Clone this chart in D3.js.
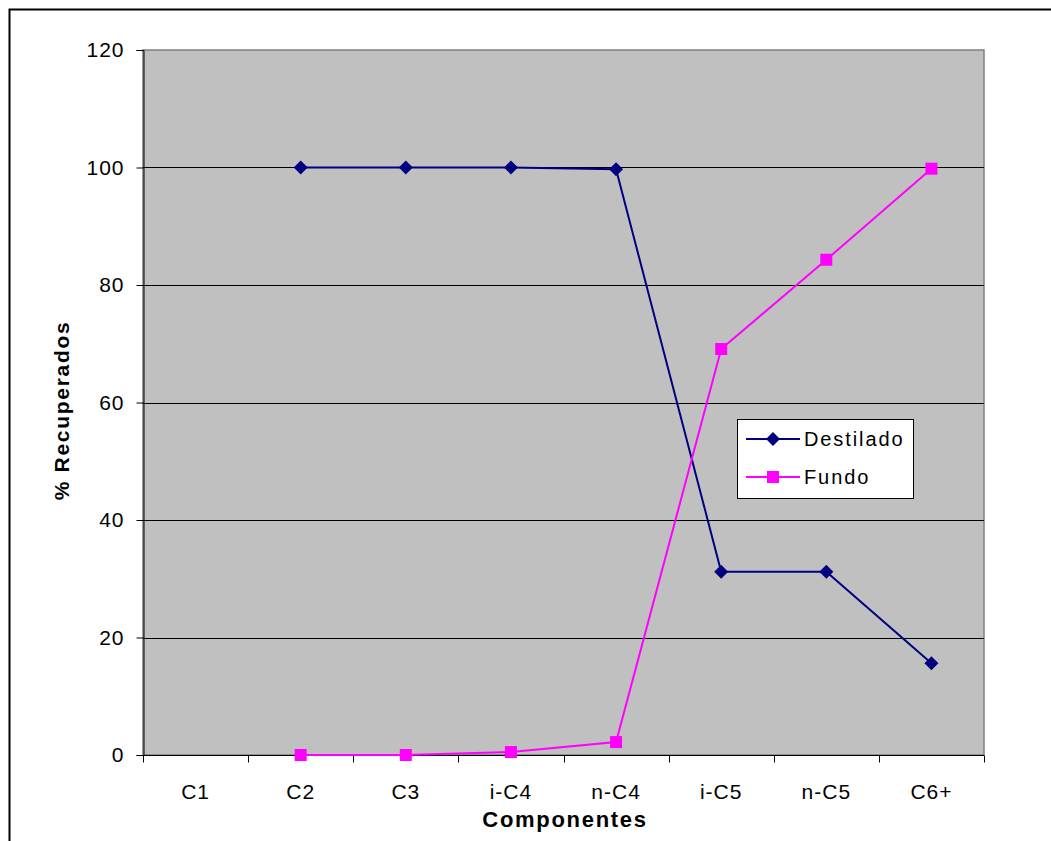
<!DOCTYPE html>
<html>
<head>
<meta charset="utf-8">
<script src="https://cdn.jsdelivr.net/npm/d3@7"></script>
<style>
  html, body { margin: 0; padding: 0; background: #fff; }
  svg { display: block; font-family: "Liberation Sans", Arial, sans-serif; }
</style>
</head>
<body>
<svg id="chart" width="1051" height="841"></svg>
<script>
// Recovery of each component in distillate and bottoms
const categories = ["C1", "C2", "C3", "i-C4", "n-C4", "i-C5", "n-C5", "C6+"];
const destilado = [null, 100, 100, 100, 99.7, 31.2, 31.2, 15.6];
const fundo = [null, 0, 0, 0.5, 2.2, 69.1, 84.3, 99.8];
const yTicks = [0, 20, 40, 60, 80, 100, 120];
const seriesNames = ["Destilado", "Fundo"];
const seriesColors = ["#000080", "#FF00FF"];

const svg = d3.select("#chart");
const W = 1051, H = 841;
const plot = { left: 143, top: 50, right: 984, bottom: 755 };
const FONT = "Liberation Sans, Arial, sans-serif";

// outer frame
svg.append("path")
  .attr("d", `M9.5,${H} V9.5 H${W}`)
  .attr("fill", "none").attr("stroke", "#000").attr("stroke-width", 2);

const x = d3.scaleBand().domain(categories).range([plot.left, plot.right]).padding(0);
const y = d3.scaleLinear().domain([0, 120]).range([plot.bottom, plot.top]);

// plot background
svg.append("rect")
  .attr("x", plot.left).attr("y", plot.top)
  .attr("width", plot.right - plot.left).attr("height", plot.bottom - plot.top)
  .attr("fill", "#C0C0C0").attr("stroke", "#808080").attr("stroke-width", 1.5);

// gridlines
svg.append("g").selectAll("line")
  .data(yTicks.filter(t => t > 0 && t < 120))
  .join("line")
  .attr("x1", plot.left).attr("x2", plot.right)
  .attr("y1", d => Math.round(y(d)) + 0.5).attr("y2", d => Math.round(y(d)) + 0.5)
  .attr("stroke", "#000").attr("stroke-width", 1);

// y axis
const yAxis = svg.append("g")
  .attr("transform", `translate(${plot.left + 0.5},0)`)
  .call(d3.axisLeft(y).tickValues(yTicks).tickSize(7).tickPadding(12));
yAxis.attr("font-size", 21).attr("font-family", FONT);
yAxis.select(".domain").attr("stroke", "#000");
yAxis.selectAll(".tick line").attr("stroke", "#000");
yAxis.selectAll("text").attr("font-size", 21).attr("fill", "#000")
  .attr("letter-spacing", 1);

// x axis with ticks between categories
const xAxisG = svg.append("g").attr("transform", `translate(0,${plot.bottom + 0.5})`);
xAxisG.append("line")
  .attr("x1", plot.left).attr("x2", plot.right)
  .attr("stroke", "#000").attr("stroke-width", 1);
const boundaries = categories.map(c => x(c)).concat([x(categories[categories.length - 1]) + x.bandwidth()]);
xAxisG.selectAll("line.tk").data(boundaries).join("line").attr("class", "tk")
  .attr("x1", d => Math.round(d) + 0.5).attr("x2", d => Math.round(d) + 0.5)
  .attr("y1", 0).attr("y2", 7).attr("stroke", "#000");
xAxisG.selectAll("text").data(categories).join("text")
  .attr("x", d => x(d) + x.bandwidth() / 2)
  .attr("y", 43)
  .attr("text-anchor", "middle")
  .attr("font-size", 21).attr("letter-spacing", 1).attr("fill", "#000")
  .text(d => d);

// axis titles
svg.append("text")
  .attr("x", 565).attr("y", 827)
  .attr("text-anchor", "middle")
  .attr("font-size", 22).attr("font-weight", "bold")
  .attr("letter-spacing", 1.7)
  .text("Componentes");
svg.append("text")
  .attr("transform", `translate(69,${(plot.top + plot.bottom) / 2 + 8}) rotate(-90)`)
  .attr("text-anchor", "middle")
  .attr("font-size", 21).attr("font-weight", "bold")
  .attr("letter-spacing", 1.7)
  .text("% Recuperados");

const cx = c => x(c) + x.bandwidth() / 2;
const line = d3.line()
  .defined(d => d.v !== null)
  .x(d => cx(d.c)).y(d => y(d.v));

const allSeries = [destilado, fundo].map((vals, i) => ({
  name: seriesNames[i],
  color: seriesColors[i],
  points: categories.map((c, j) => ({ c, v: vals[j] }))
}));

// diamond marker and square marker
const diamondPath = "M0,-7L7,0L0,7L-7,0Z";
const squarePath = "M-6,-6H6V6H-6Z";

allSeries.forEach((s, i) => {
  svg.append("path")
    .datum(s.points)
    .attr("d", line)
    .attr("fill", "none").attr("stroke", s.color).attr("stroke-width", 2);
  svg.append("g").selectAll("path")
    .data(s.points.filter(p => p.v !== null))
    .join("path")
    .attr("transform", p => `translate(${cx(p.c)},${y(p.v)})`)
    .attr("d", i === 0 ? diamondPath : squarePath)
    .attr("fill", s.color);
});

// legend
const lg = svg.append("g").attr("transform", "translate(737,419)");
lg.append("rect").attr("x", 0.5).attr("y", 0.5).attr("width", 176).attr("height", 79)
  .attr("fill", "#fff").attr("stroke", "#000").attr("stroke-width", 1);
allSeries.forEach((s, i) => {
  const yy = 20 + i * 38;
  lg.append("line").attr("x1", 9).attr("x2", 63).attr("y1", yy).attr("y2", yy)
    .attr("stroke", s.color).attr("stroke-width", 2);
  lg.append("path").attr("transform", `translate(36,${yy})`)
    .attr("d", i === 0 ? diamondPath : squarePath)
    .attr("fill", s.color);
  lg.append("text").attr("x", 67).attr("y", yy + 7)
    .attr("font-size", 20).attr("letter-spacing", 1.9).text(s.name);
});
</script>
</body>
</html>
